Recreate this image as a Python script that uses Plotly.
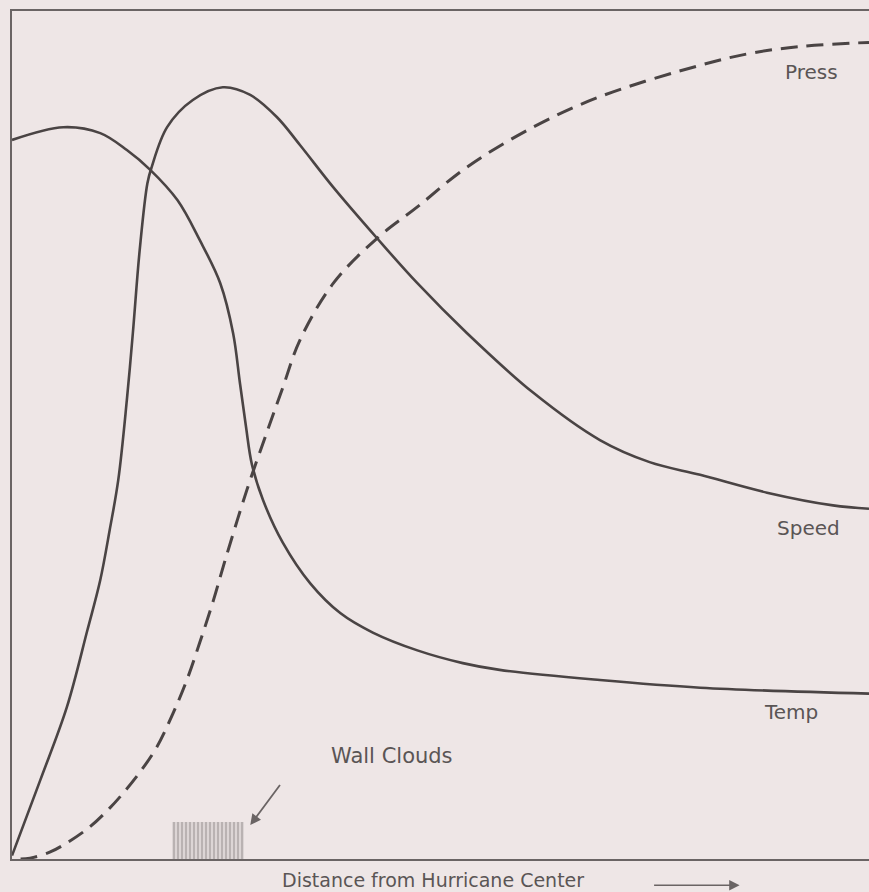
import plotly.graph_objects as go

# Values (distance and value both in % of the axis span)
speed_x = [0, 3.3, 6.4, 8.8, 10.3, 11.4, 12.4, 13.4, 14.1, 14.9, 15.8, 16.3, 18.1, 21.1,
           24.6, 27.8, 30.9, 33.6, 37.5, 42.6, 47.3, 53.1, 60.8, 68.6, 74.4, 80.3, 88.1,
           95.8, 100]
speed_y = [0.4, 9.3, 17.9, 27.0, 32.9, 38.8, 44.7, 54.1, 62.0, 71.8, 79.7, 81.6, 86.3, 89.5,
           91.0, 90.1, 87.5, 84.2, 79.2, 73.2, 67.9, 62.0, 55.0, 49.4, 46.8, 45.3, 43.2,
           41.7, 41.3]

temp_x = [0, 6.0, 10.3, 13.4, 16.1, 19.3, 21.9, 24.3, 25.8, 26.6, 27.3, 28.0, 29.3, 31.6,
          34.8, 38.3, 42.1, 47.3, 52.6, 56.9, 68.6, 80.3, 100]
temp_y = [84.8, 86.3, 85.6, 83.6, 81.3, 77.7, 73.0, 67.9, 62.0, 56.1, 51.0, 46.5, 42.3, 37.3,
          32.5, 29.0, 26.7, 24.6, 23.1, 22.3, 21.1, 20.2, 19.5]

press_x = [1.0, 2.1, 4.4, 6.4, 9.1, 11.4, 13.0, 14.9, 16.9, 18.8, 20.4, 21.9, 23.5, 24.8,
           27.4, 29.8, 31.6, 33.6, 37.5, 42.6, 47.3, 53.1, 60.8, 68.6, 80.3, 86.1, 91.9, 100]
press_y = [0, 0.1, 0.8, 1.9, 3.8, 6.0, 7.8, 10.2, 13.2, 17.2, 21.1, 25.5, 30.5, 35.0,
           43.5, 50.5, 55.6, 61.2, 67.9, 73.2, 76.9, 81.6, 86.3, 89.9, 93.6, 95.0, 95.8, 96.3]

# wall-cloud band on the distance axis
wall_x0, wall_x1, wall_h = 18.7, 27.1, 4.4

curve_labels = {"Press": (93.3, 92.8), "Speed": (92.9, 39.0), "Temp": (90.9, 17.3)}

ink = "#4a4444"
paper = "#eee6e6"
font = {"family": "DejaVu Sans", "size": 20, "color": "#5a5555"}
curve_line = {"color": ink, "width": 2.6, "shape": "spline", "smoothing": 1.0}

fig = go.Figure()
fig.add_trace(go.Bar(
    x=[(wall_x0 + wall_x1) / 2], y=[wall_h], width=[wall_x1 - wall_x0],
    marker={"color": "#dcd5d5", "line": {"width": 0},
            "pattern": {"shape": "|", "fgcolor": "#847d7d", "size": 4, "solidity": 0.4}},
    showlegend=False, hoverinfo="skip",
))
fig.add_trace(go.Scatter(x=speed_x, y=speed_y, mode="lines", name="Speed", line=curve_line))
fig.add_trace(go.Scatter(x=temp_x, y=temp_y, mode="lines", name="Temp", line=curve_line))
fig.add_trace(go.Scatter(x=press_x, y=press_y, mode="lines", name="Press",
                         line={**curve_line, "width": 3, "dash": "17px,9px"}))

for text, (lx, ly) in curve_labels.items():
    fig.add_annotation(x=lx, y=ly, text=text, showarrow=False, font=font)

fig.add_annotation(x=44.3, y=12.1, text="Wall Clouds", showarrow=False,
                   font={**font, "size": 21})
fig.add_annotation(x=27.8, y=4.0, ax=31.4, ay=8.9, axref="x", ayref="y", text="",
                   showarrow=True, arrowhead=2, arrowsize=1.2, arrowwidth=1.8,
                   arrowcolor="#6a6464")
fig.add_annotation(x=49.1, y=-0.0245, yref="paper", xanchor="center", yanchor="middle",
                   text="Distance from Hurricane Center", showarrow=False,
                   font={**font, "size": 19})
fig.add_annotation(x=84.9, y=-0.031, yref="paper", ax=-87, ay=0, text="",
                   showarrow=True, arrowhead=2, arrowsize=1.3, arrowwidth=1.6,
                   arrowcolor="#6a6464")

fig.update_layout(
    width=869, height=892,
    margin={"l": 12, "r": 0, "t": 11, "b": 33},
    paper_bgcolor=paper, plot_bgcolor=paper,
    showlegend=False, bargap=0,
    xaxis={"range": [0, 100], "showgrid": False, "zeroline": False, "showticklabels": False,
           "ticks": "", "showline": True, "mirror": True, "linecolor": "#6a6464",
           "linewidth": 2},
    yaxis={"range": [0, 100], "showgrid": False, "zeroline": False, "showticklabels": False,
           "ticks": "", "showline": True, "linecolor": "#6a6464", "linewidth": 2},
)

# drop the page's default body margin so the figure fills the window
fig.write_html(
    "out.html",
    config={"displayModeBar": False},
    post_script="document.body.style.margin='0';"
                "document.body.style.background='" + paper + "';",
)
